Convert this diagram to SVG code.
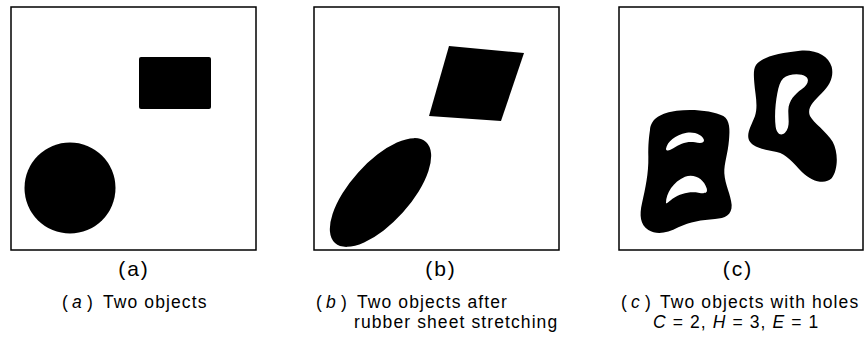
<svg xmlns="http://www.w3.org/2000/svg" width="867" height="338" viewBox="0 0 867 338">
<style>
.frame{fill:#fff;stroke:#000;stroke-width:1.5}
.blob{fill:#000;stroke:none}
.lbl{font-family:"Liberation Sans",Arial,sans-serif;font-size:21px;letter-spacing:2px;text-anchor:middle;fill:#000}
.cap{font-family:"Liberation Sans",Arial,sans-serif;font-size:17.5px;letter-spacing:1.1px;fill:#000}
.it{font-style:italic}
</style>
<rect width="867" height="338" fill="#fff"/>
<g id="panel-a">
<rect class="frame" x="11" y="7" width="245" height="243"/>
<rect class="blob" x="139" y="57" width="72" height="52" rx="2"/>
<circle class="blob" cx="70" cy="188" r="45.5"/>
<text class="lbl" x="134" y="276">(a)</text>
<text class="cap" y="308"><tspan x="62">(</tspan><tspan class="it" x="72">a</tspan><tspan x="87">)</tspan><tspan x="103">Two objects</tspan></text>
</g>
<g id="panel-b">
<rect class="frame" x="314" y="7" width="245" height="243"/>
<polygon class="blob" points="449,46 524,53 501,121 429,116" stroke="#000" stroke-width="1.5" stroke-linejoin="round"/>
<ellipse class="blob" cx="380.5" cy="192.5" rx="68" ry="30" transform="rotate(-48 380.5 192.5)"/>
<text class="lbl" x="441" y="276">(b)</text>
<text class="cap" y="308"><tspan x="316">(</tspan><tspan class="it" x="326">b</tspan><tspan x="341">)</tspan><tspan x="357">Two objects after</tspan></text>
<text class="cap" x="354" y="328">rubber sheet stretching</text>
</g>
<g id="panel-c">
<rect class="frame" x="619" y="7" width="244" height="243"/>
<g transform="translate(630 30) scale(0.33333)">
<path class="blob" fill-rule="evenodd" d="M 60,300 C 62,265 95,248 140,242 C 190,236 250,242 280,258 C 300,270 300,300 297,330 C 294,370 282,400 283,430 C 285,465 303,495 305,525 C 306,555 285,565 255,567 C 215,570 180,575 145,592 C 110,610 80,615 55,600 C 30,585 28,555 36,520 C 46,475 56,430 55,380 C 54,345 57,320 60,300 Z M 108,356 C 112,335 135,315 170,308 C 195,304 218,315 222,330 C 223,340 210,340 195,337 C 170,333 150,342 130,355 C 120,362 107,364 108,356 Z M 108,518 C 108,490 130,455 165,440 C 195,430 222,448 230,475 C 234,490 225,492 205,488 C 175,484 150,492 130,505 C 118,513 108,525 108,518 Z"/>
<path class="blob" fill-rule="evenodd" d="M 378,105 C 395,80 450,68 510,62 C 560,58 595,78 605,110 C 612,140 600,165 575,190 C 550,215 530,235 540,258 C 550,278 590,305 608,335 C 625,365 625,420 605,445 C 585,465 545,455 515,425 C 490,400 470,372 440,366 C 410,360 375,355 360,335 C 345,315 365,285 375,258 C 385,225 375,190 373,160 C 371,135 370,118 378,105 Z M 460,145 C 475,132 510,128 528,140 C 540,150 532,165 515,178 C 495,192 476,212 475,240 C 474,265 482,290 465,308 C 452,320 440,310 437,290 C 433,260 436,220 442,190 C 446,170 450,155 460,145 Z"/>
</g>
<text class="lbl" x="738" y="276">(c)</text>
<text class="cap" y="308"><tspan x="621">(</tspan><tspan class="it" x="631">c</tspan><tspan x="645">)</tspan><tspan x="660">Two objects with holes</tspan></text>
<text class="cap" x="653" y="328"><tspan class="it">C</tspan> = 2, <tspan class="it">H</tspan> = 3, <tspan class="it">E</tspan> = 1</text>
</g>
</svg>
